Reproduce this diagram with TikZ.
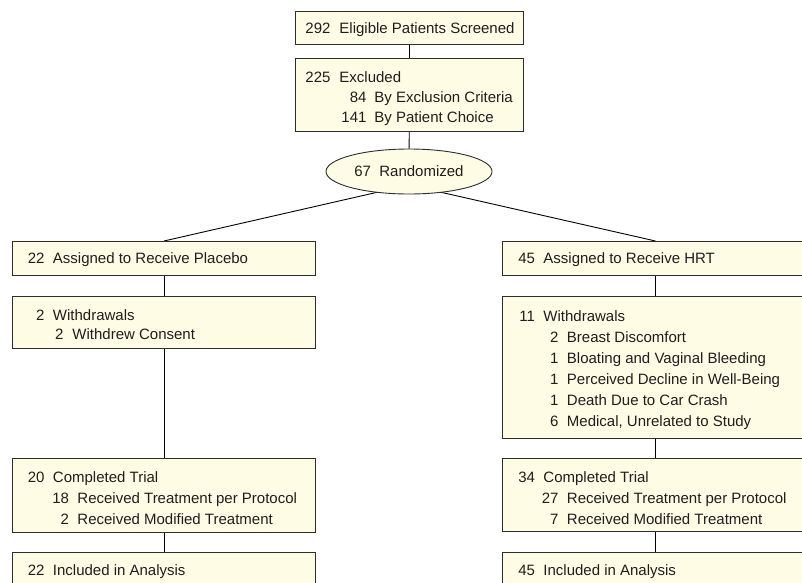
\documentclass[tikz,border=0pt]{standalone}
\usepackage{fontspec}
\setmainfont{Liberation Sans}
\usetikzlibrary{calc,shapes.geometric,backgrounds}
\definecolor{boxfill}{RGB}{255,252,230}
\definecolor{boxline}{RGB}{45,45,45}
\definecolor{txt}{RGB}{30,30,30}
% one line: number right-aligned at #1, text starting at #2 (pt from box left)
\newcommand\Ln[4]{\hspace*{#1pt}\llap{#3}\hspace*{\dimexpr#2pt-#1pt\relax}#4\par}
% box content: width, height, first baseline, line spacing, lines
\newcommand\Bx[5]{\parbox[t][#2pt][t]{#1pt}{\fontsize{15pt}{#4pt}\selectfont\color{txt}%
  \setlength\parindent{0pt}\setlength\parskip{0pt}\setlength\lineskiplimit{-100pt}%
  \setlength\baselineskip{#4pt}\raggedright\leavevmode\rule{0pt}{#3pt}#5}}
\tikzset{
  flowbox/.style={draw=boxline, fill=boxfill, line width=0.9pt, inner sep=0pt, anchor=north west},
  randbox/.style={ellipse, draw=boxline, fill=boxfill, line width=0.9pt, inner sep=0pt,
    minimum width=166pt, minimum height=45pt, text=txt, font=\fontsize{15pt}{18pt}\selectfont},
  conn/.style={draw=black, line width=0.9pt}
}
\begin{document}
\begin{tikzpicture}[x=1pt,y=-1pt]
\useasboundingbox (0,0) rectangle (802,582);
\clip (0,0) rectangle (802,582);
\node[flowbox] (b1) at (295,11) {\Bx{228}{33}{22.5}{20.5}{\Ln{35}{44}{292}{Eligible Patients Screened}}};
\node[flowbox] (b2) at (295,58) {\Bx{228}{73}{24}{19.8}{\Ln{35}{44}{225}{Excluded}\Ln{71}{79}{84}{By Exclusion Criteria}\Ln{71}{79}{141}{By Patient Choice}}};
\node[randbox] (rand) at (409,171.5) {67\hspace{8.3pt}Randomized};
\node[flowbox] (b3) at (12,241) {\Bx{303}{34}{22.5}{20.5}{\Ln{32}{40.5}{22}{Assigned to Receive Placebo}}};
\node[flowbox] (b4) at (502,241) {\Bx{306}{34}{22.5}{20.5}{\Ln{32.5}{41}{45}{Assigned to Receive HRT}}};
\node[flowbox] (b5) at (12,296) {\Bx{303}{52}{24}{19.5}{\Ln{32}{40.5}{2}{Withdrawals}\Ln{51}{60}{2}{Withdrew Consent}}};
\node[flowbox] (b6) at (502,296) {\Bx{306}{142}{25.5}{21}{\Ln{32.5}{41}{11}{Withdrawals}\Ln{56}{64.5}{2}{Breast Discomfort}\Ln{56}{64.5}{1}{Bloating and Vaginal Bleeding}\Ln{56}{64.5}{1}{Perceived Decline in Well-Being}\Ln{56}{64.5}{1}{Death Due to Car Crash}\Ln{56}{64.5}{6}{Medical, Unrelated to Study}}};
\node[flowbox] (b7) at (12,458) {\Bx{303}{74}{24}{20.8}{\Ln{32}{40.5}{20}{Completed Trial}\Ln{56.5}{65}{18}{Received Treatment per Protocol}\Ln{56.5}{65}{2}{Received Modified Treatment}}};
\node[flowbox] (b8) at (502,458) {\Bx{306}{73}{24}{20.8}{\Ln{32.5}{41}{34}{Completed Trial}\Ln{56}{64.5}{27}{Received Treatment per Protocol}\Ln{56}{64.5}{7}{Received Modified Treatment}}};
\node[flowbox] (b9) at (12,552) {\Bx{303}{50}{23}{20.5}{\Ln{32}{40.5}{22}{Included in Analysis}}};
\node[flowbox] (b10) at (502,552) {\Bx{306}{50}{23}{20.5}{\Ln{32.5}{41}{45}{Included in Analysis}}};
\coordinate (rs) at ($(rand.center)+(0,13.5)$);
\begin{pgfonlayer}{background}
\draw[conn] (rs) -- (b3.north);
\draw[conn] (rs) -- (b4.north);
\end{pgfonlayer}
\draw[conn] (b1) -- (b2);
\draw[conn] (b2) -- (rand);
\draw[conn] (b3) -- (b5);
\draw[conn] (b5) -- (b7);
\draw[conn] (b7) -- (b9);
\draw[conn] (b4) -- (b6);
\draw[conn] (b6) -- (b8);
\draw[conn] (b8) -- (b10);
\end{tikzpicture}
\end{document}
